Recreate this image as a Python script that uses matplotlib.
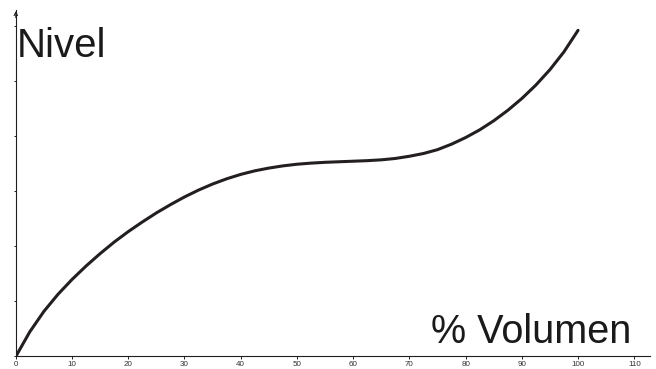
import numpy as np
import matplotlib.pyplot as plt

# valores
volumen = [0, 2.5, 5, 7.5, 10, 12.5, 15, 17.5, 20, 22.5, 25, 27.5, 30, 32.5, 35, 37.5, 40,
           42.5, 45, 47.5, 50, 52.5, 55, 57.5, 60, 62.5, 65, 67.5, 70, 72.5, 75, 77.5, 80,
           82.5, 85, 87.5, 90, 92.5, 95, 97.5, 100]
nivel = [0.0, 0.45, 0.82, 1.13, 1.40, 1.645, 1.87, 2.08, 2.27, 2.445, 2.61, 2.76, 2.90,
         3.025, 3.135, 3.23, 3.31, 3.375, 3.425, 3.465, 3.495, 3.515, 3.53, 3.54, 3.55,
         3.56, 3.575, 3.60, 3.64, 3.69, 3.76, 3.86, 3.98, 4.12, 4.285, 4.475, 4.69,
         4.935, 5.215, 5.54, 5.93]
x_ticks = [0, 10, 20, 30, 40, 50, 60, 70, 80, 90, 100, 110]
y_ticks = [0, 1, 2, 3, 4, 5, 6]

plt.rcParams['font.family'] = ['Liberation Sans', 'DejaVu Sans']

fig = plt.figure(figsize=(6.56, 3.69), dpi=100)
ax = fig.add_axes([0.0241, 0.034, 0.9668, 0.939])

ax.plot(volumen, nivel, color='#231f20', lw=2.2, solid_capstyle='round',
        solid_joinstyle='round')

ax.set_xlim(0, 112.8)
ax.set_ylim(0, 6.3)
ax.set_xticks(x_ticks)
ax.set_xticklabels([str(v) for v in x_ticks])
ax.set_yticks(y_ticks)
ax.set_yticklabels([])
ax.tick_params(axis='x', direction='out', length=2.5, width=0.7, labelsize=5.8,
               labelcolor='#333333', pad=0.5, color='#231f20')
ax.tick_params(axis='y', direction='out', length=1.8, width=0.7, color='#231f20')

for s in ['top', 'right']:
    ax.spines[s].set_visible(False)
ax.spines['left'].set_linewidth(0.8)
ax.spines['bottom'].set_linewidth(0.8)
ax.spines['left'].set_color('#231f20')
ax.spines['bottom'].set_color('#231f20')

# seta no eixo y
ax.annotate('', xy=(0, 1.005), xytext=(0, 0.97), xycoords='axes fraction',
            arrowprops=dict(arrowstyle='->', lw=0.8, color='#231f20',
                            mutation_scale=6), annotation_clip=False)

ax.text(0.2, 5.45, 'Nivel', fontsize=29, color='#1a1a1a', ha='left', va='baseline')
ax.text(109.5, 0.25, '% Volumen', fontsize=28.5, color='#1a1a1a', ha='right', va='baseline')

fig.savefig('out.png', dpi=100)
